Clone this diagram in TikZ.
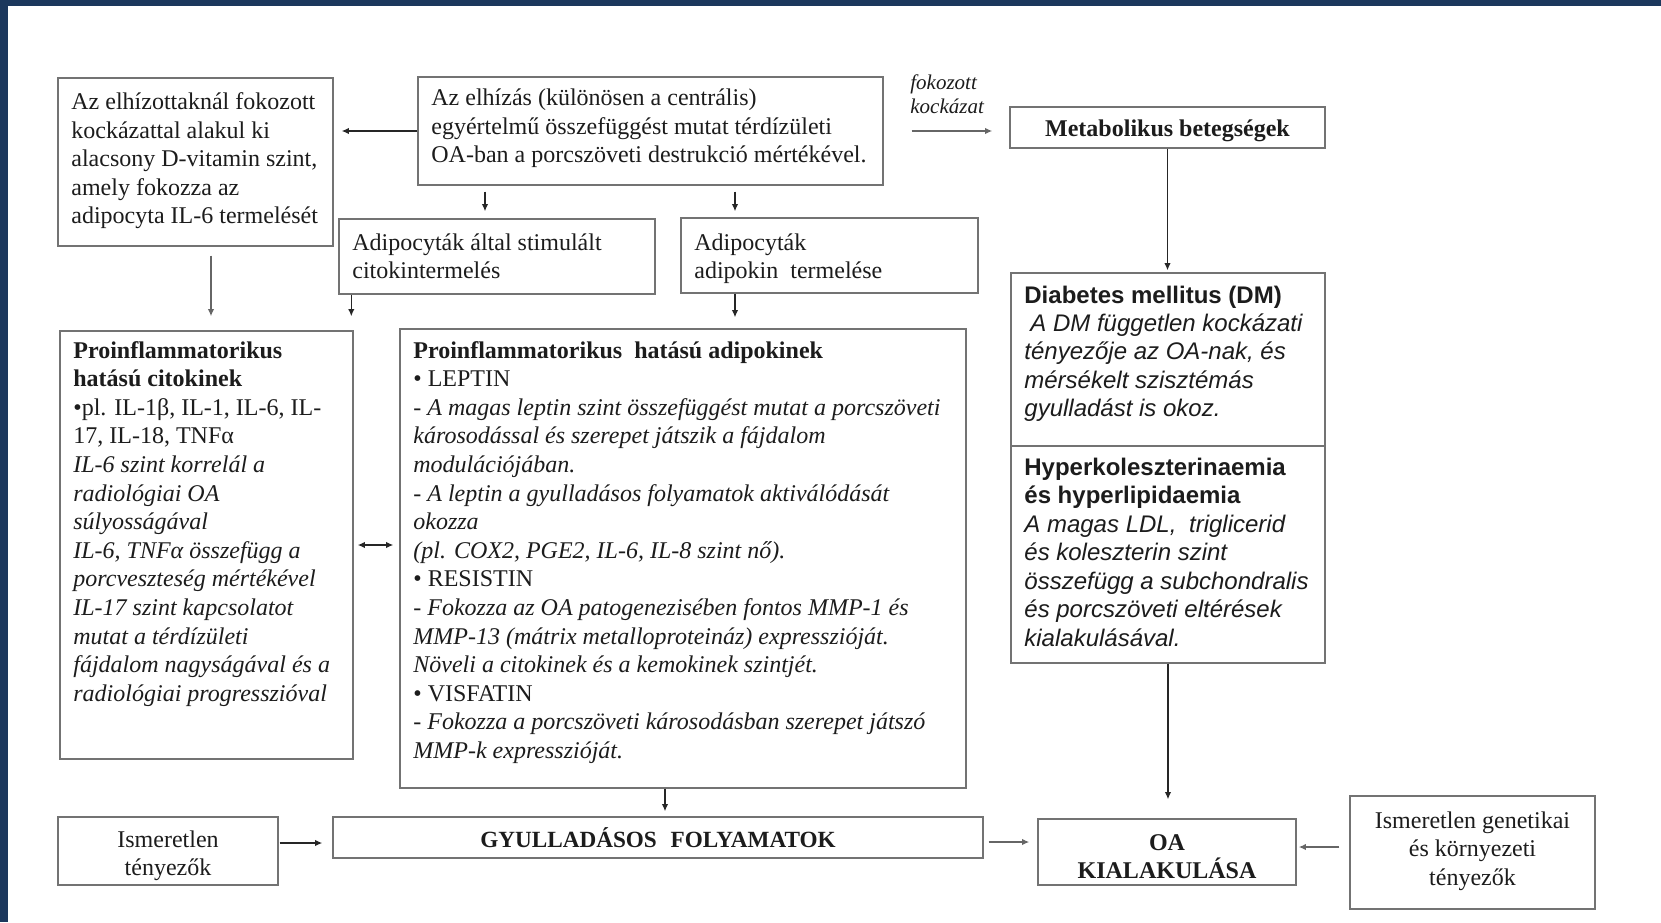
\documentclass[tikz,border=0pt]{standalone}
\usepackage{fontspec}
\setmainfont{Liberation Serif}
\newfontfamily\arialf{Liberation Sans}
\usetikzlibrary{arrows.meta}
\definecolor{navy}{RGB}{28,56,93}
\definecolor{txt}{RGB}{28,28,28}
\newcommand{\fs}[1]{\fontsize{12pt}{#1}\selectfont}
\begin{document}
\begin{tikzpicture}[x=0.5pt,y=-0.5pt,
  box/.style={draw=black!55, line width=0.7pt, inner sep=0pt, text=txt},
  arr/.style={-{Latex[length=3.6pt,width=3.2pt]}, line width=0.65pt, draw=black!85},
  arrg/.style={arr, line width=1pt, draw=black!60},
  dbl/.style={{Latex[length=3.6pt,width=3.2pt]}-{Latex[length=3.6pt,width=3.2pt]}, line width=0.65pt, draw=black!85},
  tx/.style={anchor=base west, inner sep=0pt, text=txt},
  ctx/.style={anchor=base, inner sep=0pt, text=txt}]
\useasboundingbox (0,0) rectangle (1661,922);
\fill[white] (0,0) rectangle (1661,922);
\fill[navy] (0,0) rectangle (1661,6);
\fill[navy] (0,0) rectangle (8,922);

% boxes
\node[box, minimum width=137.5pt, minimum height=84pt] (A) at (195.5,162) {};
\node[box, minimum width=232.5pt, minimum height=54pt] (B) at (650.5,131) {};
\node[box, minimum width=157.5pt, minimum height=20.5pt] (C) at (1167.5,127.5) {};
\node[box, minimum width=158pt, minimum height=37.5pt] (D) at (497,256.5) {};
\node[box, minimum width=148.5pt, minimum height=37.5pt] (E) at (829.5,255.5) {};
\node[box, minimum width=146.5pt, minimum height=214pt] (F) at (206.5,545) {};
\node[box, minimum width=283pt, minimum height=229.5pt] (G) at (683,558.5) {};
\node[box, minimum width=157pt, minimum height=86.5pt] (H1) at (1168,359.5) {};
\node[box, minimum width=157pt, minimum height=108.5pt] (H2) at (1168,554.5) {};
\node[box, minimum width=110pt, minimum height=34pt] (I) at (168,851) {};
\node[box, minimum width=325pt, minimum height=20.5pt, font=\bfseries\fontsize{11.6pt}{14pt}\selectfont] (J) at (658,837.5) {GYULLADÁSOS\hspace{4pt} FOLYAMATOK};
\node[box, minimum width=129pt, minimum height=33pt] (K) at (1167,852) {};
\node[box, minimum width=122.5pt, minimum height=56.5pt] (L) at (1472.5,852.5) {};

% texts
\node[ctx] (Ct) at (1167.5,136) {\bfseries\fs{14pt}Metabolikus betegségek};
\node[ctx] (It) at (168,847) {\parbox[t]{100pt}{\centering\fs{14pt}Ismeretlen\\tényezők}};
\node[ctx] (Kt) at (1167,850) {\parbox[t]{120pt}{\centering\bfseries\fs{14pt}OA\\KIALAKULÁSA}};
\node[ctx] (Lt) at (1472.5,828) {\parbox[t]{120pt}{\centering\fs{14.25pt}Ismeretlen genetikai\\és környezeti\\tényezők}};
\node[tx] (At) at (71,109.5) {\parbox[t]{160pt}{\fs{14.3pt}Az elhízottaknál fokozott\\kockázattal alakul ki\\alacsony D-vitamin szint,\\amely fokozza az\\adipocyta IL-6 termelését}};
\node[tx] (Bt) at (431,105.5) {\parbox[t]{260pt}{\fs{14.3pt}Az elhízás (különösen a centrális)\\egyértelmű összefüggést mutat térdízületi\\OA-ban a porcszöveti destrukció mértékével.}};
\node[tx] (Fk) at (910,89) {\parbox[t]{60pt}{\fontsize{10.5pt}{12.2pt}\selectfont\itshape fokozott\\kockázat}};
\node[tx] (Dt) at (352,250) {\parbox[t]{160pt}{\fs{14.3pt}Adipocyták által stimulált\\citokintermelés}};
\node[tx] (Et) at (694,250) {\parbox[t]{160pt}{\fs{14.3pt}Adipocyták\\adipokin\hspace{3pt} termelése}};
\node[tx] (Ft) at (73,358) {\parbox[t]{160pt}{\fs{14.3pt}\textbf{Proinflammatorikus}\\\textbf{hatású citokinek}\\•pl. IL-1β, IL-1, IL-6, IL-\\17, IL-18, TNFα\\\textit{IL-6 szint korrelál a}\\\textit{radiológiai OA}\\\textit{súlyosságával}\\\textit{IL-6, TNFα összefügg a}\\\textit{porcveszteség mértékével}\\\textit{IL-17 szint kapcsolatot}\\\textit{mutat a térdízületi}\\\textit{fájdalom nagyságával és a}\\\textit{radiológiai progresszióval}}};
\node[tx] (Gt) at (413,358) {\parbox[t]{300pt}{\fs{14.3pt}\textbf{Proinflammatorikus\hspace{3pt} hatású adipokinek}\\• LEPTIN\\\textit{- A magas leptin szint összefüggést mutat a porcszöveti}\\\textit{károsodással és szerepet játszik a fájdalom}\\\textit{modulációjában.}\\\textit{- A leptin a gyulladásos folyamatok aktiválódását}\\\textit{okozza}\\\textit{(pl. COX2, PGE2, IL-6, IL-8 szint nő).}\\• RESISTIN\\\textit{- Fokozza az OA patogenezisében fontos MMP-1 és}\\\textit{MMP-13 (mátrix metalloproteináz) expresszióját.}\\\textit{Növeli a citokinek és a kemokinek szintjét.}\\• VISFATIN\\\textit{- Fokozza a porcszöveti károsodásban szerepet játszó}\\\textit{MMP-k expresszióját.}}};
\node[tx] (H1t) at (1024,303) {\parbox[t]{165pt}{\arialf\fs{14.2pt}\textbf{Diabetes mellitus (DM)}\\\textit{\hspace*{3pt}A DM független kockázati}\\\textit{tényezője az OA-nak, és}\\\textit{mérsékelt szisztémás}\\\textit{gyulladást is okoz.}}};
\node[tx] (H2t) at (1024,475) {\parbox[t]{165pt}{\arialf\fs{14.25pt}\textbf{Hyperkoleszterinaemia}\\\textbf{és hyperlipidaemia}\\\textit{A magas LDL,\hspace{3pt} triglicerid}\\\textit{és koleszterin szint}\\\textit{összefügg a subchondralis}\\\textit{és porcszöveti eltérések}\\\textit{kialakulásával.}}};

% connectors
\draw[arr, shorten >=4pt] (B.west) -- (B.west -| A.east);
\draw[arrg, shorten <=14pt, shorten >=8.5pt] (B.east) -- (B.east -| C.west);
\draw[arr, shorten <=3pt, shorten >=3.5pt] ([xshift=-82.75pt]B.south) -- ([xshift=-82.75pt]B.south |- D.north);
\draw[arr, shorten <=3pt, shorten >=3pt] ([xshift=42.25pt]B.south) -- ([xshift=42.25pt]B.south |- E.north);
\draw[arrg, shorten <=4.5pt, shorten >=7pt] ([xshift=7.75pt]A.south) -- ([xshift=7.75pt]A.south |- F.north);
\draw[arr, shorten >=7pt] ([xshift=6.5pt]D.south west) -- ([xshift=6.5pt]D.south west |- F.north);
\draw[arr, shorten >=5.5pt] ([xshift=-47.25pt]E.south) -- ([xshift=-47.25pt]E.south |- G.north);
\draw[dbl, shorten <=2pt, shorten >=3pt] (F.east) -- (F.east -| G.west);
\draw[arr, shorten >=1pt] (C.south) -- (C.south |- H1.north);
\draw[arr, shorten >=9.5pt] (H2.south) -- (H2.south |- K.north);
\draw[arr, shorten >=2.5pt] ([xshift=-9pt]G.south) -- ([xshift=-9pt]G.south |- J.north);
\draw[arr, shorten <=0.5pt, shorten >=5pt] ([yshift=4pt]I.east) -- ([yshift=4pt]I.east -| J.west);
\draw[arrg, shorten <=2.5pt, shorten >=4pt] ([yshift=-2.25pt]J.east) -- ([yshift=-2.25pt]J.east -| K.west);
\draw[arrg, shorten <=5pt, shorten >=1pt] ([yshift=2.75pt]L.west) -- ([yshift=2.75pt]L.west -| K.east);
\end{tikzpicture}
\end{document}
